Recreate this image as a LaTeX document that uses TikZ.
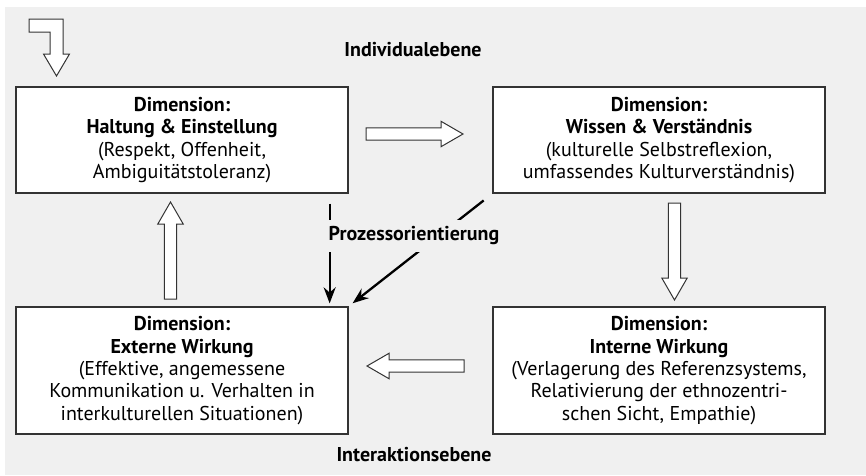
\documentclass[tikz,border=0pt]{standalone}
\usepackage{fontspec}
\setmainfont{PT Sans}
\usetikzlibrary{arrows.meta,calc}
\definecolor{bg}{HTML}{F0F0F0}
\definecolor{edge}{HTML}{333333}
\tikzset{
  dimbox/.style={draw=edge, line width=1.3pt, fill=white, minimum width=332pt,
    align=center, inner sep=0pt, font=\fontsize{20}{22.4}\selectfont},
  level/.style={font=\fontsize{20}{22}\selectfont\bfseries},
  proc/.style={-{Stealth[length=16pt,width=12pt]}, line width=2.3pt, black},
  blockarrow/.style={draw=edge, line width=1pt, fill=white},
  pics/blockarr/.style={code={
    \path[blockarrow] (0,-6.2) -- (75,-6.2) -- (75,-12.7) -- (97,0) -- (75,12.7) -- (75,6.2) -- (0,6.2) -- cycle;
  }}
}
\begin{document}
\begin{tikzpicture}[x=1pt,y=-1pt]
\useasboundingbox (0,0) rectangle (866,475);
\fill[bg] (5,7) rectangle (866,475);

\node[dimbox, minimum height=106pt] (A) at (182,140)
  {\textbf{Dimension:}\\\textbf{Haltung \& Einstellung}\\(Respekt, Offenheit,\\Ambiguitätstoleranz)};
\node[dimbox, minimum height=106pt] (B) at (659,140)
  {\textbf{Dimension:}\\\textbf{Wissen \& Verständnis}\\(kulturelle Selbstreflexion,\\umfassendes Kulturverständnis)};
\node[dimbox, minimum height=127pt] (C) at (182,370.5)
  {\textbf{Dimension:}\\\textbf{Externe Wirkung}\\(Effektive, angemessene\\Kommunikation u. Verhalten in\\interkulturellen Situationen)};
\node[dimbox, minimum height=127pt] (D) at (659,370.5)
  {\textbf{Dimension:}\\\textbf{Interne Wirkung}\\(Verlagerung des Referenzsystems,\\Relativierung der ethnozentri-\\schen Sicht, Empathie)};

\node[level] (top) at (413,50) {Individualebene};
\node[level] (bot) at (414,455) {Interaktionsebene};

% entry bent arrow
\path[blockarrow] (29,19) -- (63,19) -- (63,54) -- (69.5,54) -- (56.5,76) -- (43.5,54) -- (50,54) -- (50,32) -- (29,32) -- cycle;

% block arrows
\pic at (366,134) {blockarr};
\pic[rotate=-90] at (674.5,203) {blockarr};
\pic[rotate=90] at (170.5,299) {blockarr};
\pic[rotate=180] at (464,366) {blockarr};

% process arrows
\draw[proc, shorten <=10pt, shorten >=3pt] ([xshift=-19pt]A.south east) -- ([xshift=-19pt]C.north east);
\draw[proc, shorten <=11pt, shorten >=5pt] (B.south west) -- (C.north east);
\node[level, fill=bg, inner xsep=3pt, inner ysep=7pt] (proc) at (414,236) {Prozessorientierung};
\end{tikzpicture}
\end{document}
